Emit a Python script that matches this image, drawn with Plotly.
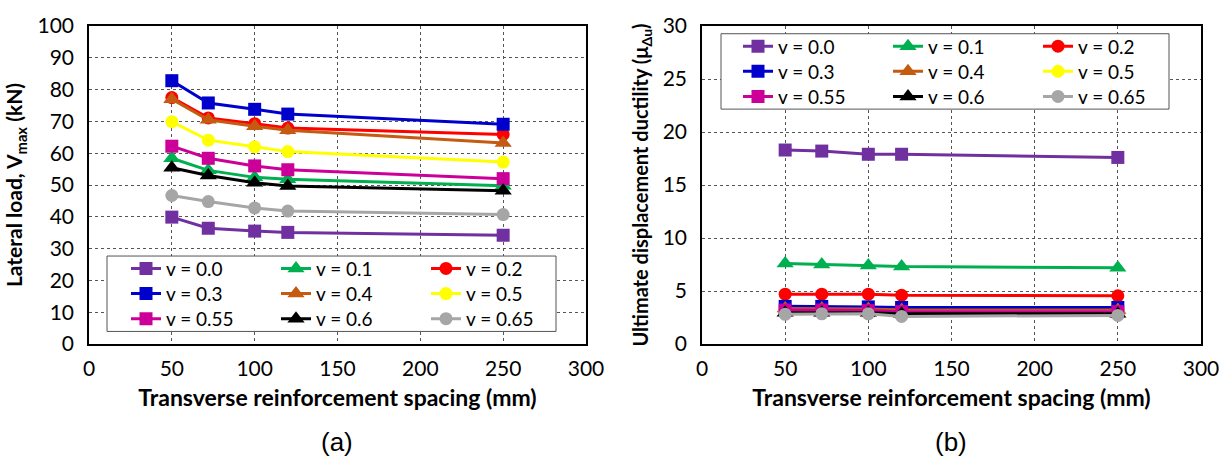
import plotly.graph_objects as go

spacing = [50, 72, 100, 120, 250]
labels = ["v = 0.0", "v = 0.1", "v = 0.2", "v = 0.3", "v = 0.4", "v = 0.5", "v = 0.55", "v = 0.6", "v = 0.65"]
colors = ["#7030A0", "#00B050", "#FF0000", "#0000CC", "#C55A11", "#FFFF00", "#CC0099", "#000000", "#A6A6A6"]
symbols = ["square", "triangle-up", "circle", "square", "triangle-up", "circle", "square", "triangle-up", "circle"]

vmax = [
    [39.9, 36.4, 35.5, 35.1, 34.2],
    [58.4, 54.6, 52.4, 51.8, 49.8],
    [77.5, 71.1, 69.3, 67.9, 65.9],
    [82.8, 75.8, 73.8, 72.3, 69.1],
    [77.0, 70.5, 68.5, 67.2, 63.2],
    [69.9, 64.1, 62.0, 60.5, 57.2],
    [62.2, 58.4, 56.0, 54.8, 52.0],
    [55.4, 53.0, 50.7, 49.7, 48.2],
    [46.7, 44.8, 42.8, 41.8, 40.7],
]
ductility = [
    [18.3, 18.2, 17.9, 17.9, 17.6],
    [7.6, 7.5, 7.4, 7.3, 7.2],
    [4.7, 4.7, 4.7, 4.6, 4.55],
    [3.55, 3.55, 3.5, 3.45, 3.45],
    [3.35, 3.35, 3.3, 3.2, 3.2],
    [3.1, 3.1, 3.1, 3.0, 3.0],
    [3.2, 3.2, 3.15, 3.05, 3.05],
    [2.95, 2.95, 2.95, 2.85, 2.85],
    [2.8, 2.85, 2.85, 2.6, 2.7],
]

W, H = 1231, 468
ML, MR, MT, MB = 89, 30, 15, 124
PW = W - ML - MR
PH = H - MT - MB

def px_x(px):
    return (px - ML) / PW

def px_y(py):
    return (H - MB - py) / PH

FONT = "Lato, Open Sans, sans-serif"

fig = go.Figure()
layout_legends = {}

# legend item grid (pixel positions of line-sample start and row centres)
left_cols = [132, 282, 432]
left_rows = [266, 292, 318]
right_cols = [744, 894, 1044]
right_rows = [36, 62, 88]

k = 0
for panel, (data, xa, ya, cols, rows) in enumerate([
    (vmax, "x", "y", left_cols, left_rows),
    (ductility, "x2", "y2", right_cols, right_rows),
]):
    for i in range(9):
        k += 1
        lname = "legend" if k == 1 else f"legend{k}"
        msize = 15 if symbols[i] == "triangle-up" else 13
        fig.add_trace(go.Scatter(
            x=spacing, y=data[i], name=labels[i], mode="lines+markers",
            xaxis=xa, yaxis=ya,
            line=dict(color=colors[i], width=3),
            marker=dict(color=colors[i], symbol=symbols[i], size=msize),
            legend=lname, showlegend=True, cliponaxis=False,
        ))
        r, c = divmod(i, 3)
        layout_legends[lname] = dict(
            x=px_x(cols[c] - 6), y=px_y(rows[r]), xanchor="left", yanchor="middle",
            bgcolor="rgba(0,0,0,0)", borderwidth=0,
            font=dict(family=FONT, size=19, color="#000"),
            itemwidth=30,
        )

axis_common = dict(
    showline=True, linecolor="#000", linewidth=1.5, mirror=True,
    showgrid=True, gridcolor="#555", griddash="dot", gridwidth=1,
    zeroline=False, ticks="", tickfont=dict(family=FONT, size=21, color="#000"),
)

dom1 = [0, (586 - ML) / PW]
dom2 = [(702 - ML) / PW, 1]

xtitle = dict(text="<b>Transverse reinforcement spacing (mm)</b>",
              font=dict(family=FONT, size=23, color="#000"), standoff=11)

fig.update_layout(
    width=W, height=H,
    margin=dict(l=ML, r=MR, t=MT, b=MB),
    paper_bgcolor="white", plot_bgcolor="white",
    xaxis=dict(domain=dom1, range=[0, 300], dtick=50, anchor="y", title=xtitle,
               ticklabelstandoff=5, **axis_common),
    yaxis=dict(domain=[0, 1], range=[0, 100], dtick=10, anchor="x",
               title=dict(text="<b>Lateral load, V<sub>max</sub> (kN)</b>",
                          font=dict(family=FONT, size=21, color="#000"), standoff=9),
               ticklabelstandoff=9, **axis_common),
    xaxis2=dict(domain=dom2, range=[0, 300], dtick=50, anchor="y2", title=xtitle,
                ticklabelstandoff=5, **axis_common),
    yaxis2=dict(domain=[0, 1], range=[0, 30], dtick=5, anchor="x2",
                title=dict(text="<b>Ultimate displacement ductility (μ<sub>Δu</sub>)</b>",
                           font=dict(family=FONT, size=20, color="#000"), standoff=9),
                ticklabelstandoff=9, **axis_common),
    shapes=[
        dict(type="rect", xref="paper", yref="paper",
             x0=px_x(107), x1=px_x(556), y0=px_y(331), y1=px_y(253),
             line=dict(color="#555", width=1), fillcolor="white", layer="above"),
        dict(type="rect", xref="paper", yref="paper",
             x0=px_x(721), x1=px_x(1169), y0=px_y(101), y1=px_y(23),
             line=dict(color="#555", width=1), fillcolor="white", layer="above"),
    ],
    annotations=[
        dict(text="(a)", x=px_x(337), y=px_y(445), xref="paper", yref="paper",
             xanchor="center", yanchor="middle", showarrow=False,
             font=dict(family="Liberation Sans, Arial", size=26, color="#000")),
        dict(text="(b)", x=px_x(951), y=px_y(445), xref="paper", yref="paper",
             xanchor="center", yanchor="middle", showarrow=False,
             font=dict(family="Liberation Sans, Arial", size=26, color="#000")),
    ],
    **layout_legends,
)

fig.write_html("out.html")
